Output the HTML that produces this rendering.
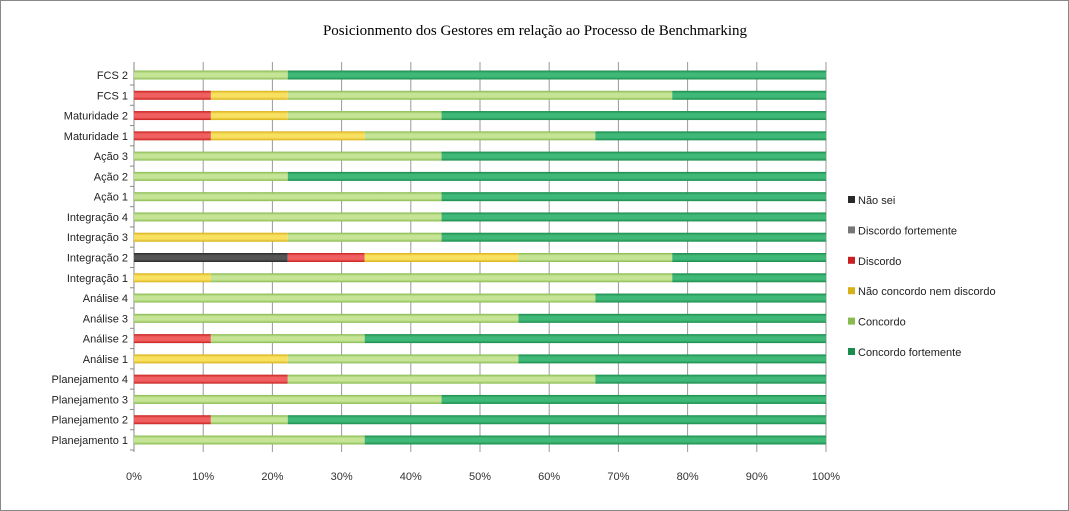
<!DOCTYPE html>
<html><head><meta charset="utf-8"><style>
body{margin:0;background:#fff;}
svg{display:block;font-family:"Liberation Sans",sans-serif;}
</style></head><body>
<svg id="c" width="1069" height="511">
<rect x="0.5" y="0.5" width="1068" height="510" fill="#fff" stroke="#888"/>
<text x="535" y="35" text-anchor="middle" font-family="Liberation Serif,serif" font-size="15">Posicionmento dos Gestores em relação ao Processo de Benchmarking</text>
<g id="grid"></g><g id="bars"></g><g id="ylab"></g><g id="xlab"></g><g id="legend"></g>
</svg>
<script>
const categories=["FCS 2","FCS 1","Maturidade 2","Maturidade 1","Ação 3","Ação 2","Ação 1","Integração 4","Integração 3","Integração 2","Integração 1","Análise 4","Análise 3","Análise 2","Análise 1","Planejamento 4","Planejamento 3","Planejamento 2","Planejamento 1"];
const seriesNames=["Não sei","Discordo fortemente","Discordo","Não concordo nem discordo","Concordo","Concordo fortemente"];
const naoSei=[0,0,0,0,0,0,0,0,0,2,0,0,0,0,0,0,0,0,0];
const discordoFortemente=[0,0,0,0,0,0,0,0,0,0,0,0,0,0,0,0,0,0,0];
const discordo=[0,1,1,1,0,0,0,0,0,1,0,0,0,1,0,2,0,1,0];
const naoConcordo=[0,1,1,2,0,0,0,0,2,2,1,0,0,0,2,0,0,0,0];
const concordo=[2,5,2,3,4,2,4,4,2,2,6,6,5,2,3,4,4,1,3];
const concordoFortemente=[7,2,5,3,5,7,5,5,5,2,2,3,4,6,4,3,5,7,6];
const xTicks=["0%","10%","20%","30%","40%","50%","60%","70%","80%","90%","100%"];
const colors=[["#555","#2a2a2a"],["#aaa","#777"],["#f06060","#c82020"],["#f8e060","#d8b018"],["#c6e496","#88ba50"],["#40b878","#1a8c4c"]];
const series=[naoSei,discordoFortemente,discordo,naoConcordo,concordo,concordoFortemente];
const NS="http://www.w3.org/2000/svg";
const X0=134,X1=826,Y0=75,STEP=(440-75)/18;
const xs=p=>X0+(X1-X0)*p;
const ys=i=>Y0+i*STEP;
function mk(t,a,par){const e=document.createElementNS(NS,t);for(const k in a)e.setAttribute(k,a[k]);document.getElementById(par).appendChild(e);return e;}
const defs=document.createElementNS(NS,"defs");document.getElementById("c").prepend(defs);
colors.forEach((c,i)=>{const g=document.createElementNS(NS,"linearGradient");g.setAttribute("id","g"+i);g.setAttribute("x1","0");g.setAttribute("y1","0");g.setAttribute("x2","0");g.setAttribute("y2","1");
[[0,c[1]],[0.3,c[0]],[0.7,c[0]],[1,c[1]]].forEach(s=>{const st=document.createElementNS(NS,"stop");st.setAttribute("offset",s[0]);st.setAttribute("stop-color",s[1]);g.appendChild(st);});defs.appendChild(g);});
xTicks.forEach((t,i)=>{const x=xs(i/10);
const l=mk("line",{x1:x,x2:x,y1:62,y2:452,stroke:"#999"},"grid");
const tx=mk("text",{x:x,y:480,"text-anchor":"middle","font-size":"11",fill:"#333"},"xlab");tx.textContent=t;});
const ax=mk("line",{x1:X0,x2:X0,y1:62,y2:452,stroke:"#888"},"grid");
categories.forEach((c,i)=>{const y=ys(i);
const tot=series.reduce((s,a)=>s+a[i],0);let acc=0;
series.forEach((a,k)=>{if(!a[i])return;const r=mk("rect",{x:xs(acc/tot),y:y-4.5,width:xs((acc+a[i])/tot)-xs(acc/tot),height:9,fill:"url(#g"+k+")"},"bars");acc+=a[i];
});
const t=mk("text",{x:128,y:y+4,"text-anchor":"end","font-size":"11",fill:"#222"},"ylab");t.textContent=c;
const tk=mk("line",{x1:130,x2:134,y1:y+10,y2:y+10,stroke:"#888"},"grid");});
seriesNames.forEach((n,k)=>{const y=200+k*30.4;
const r=mk("rect",{x:848,y:y-4,width:7,height:7,fill:colors[k][1]},"legend");
const t=mk("text",{x:858,y:y+4,"font-size":"11",fill:"#222"},"legend");t.textContent=n;});
</script>
</body></html>
